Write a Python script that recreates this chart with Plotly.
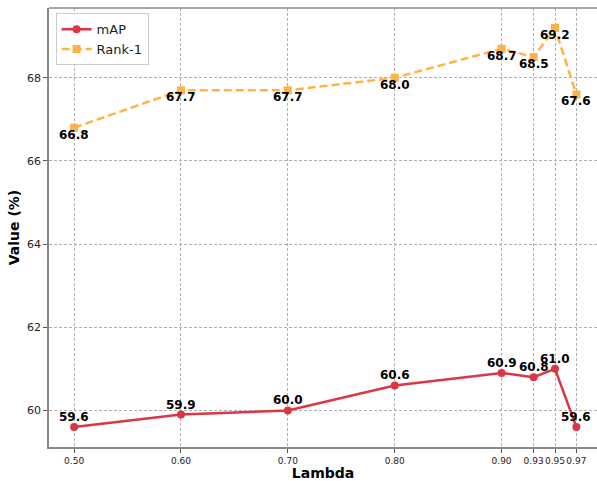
import plotly.graph_objects as go

lambdas = [0.50, 0.60, 0.70, 0.80, 0.90, 0.93, 0.95, 0.97]
tick_labels = ["0.50", "0.60", "0.70", "0.80", "0.90", "0.93", "0.95", "0.97"]
map_vals = [59.6, 59.9, 60.0, 60.6, 60.9, 60.8, 61.0, 59.6]
rank1_vals = [66.8, 67.7, 67.7, 68.0, 68.7, 68.5, 69.2, 67.6]

RED = "#dc3545"
ORANGE = "#ffb347"
FONT = "DejaVu Sans"

fig = go.Figure()
fig.add_trace(go.Scatter(
    x=lambdas, y=map_vals, name="mAP", mode="lines+markers",
    line=dict(color=RED, width=2.5),
    marker=dict(symbol="circle", size=8, color=RED),
))
fig.add_trace(go.Scatter(
    x=lambdas, y=rank1_vals, name="Rank-1", mode="lines+markers",
    line=dict(color=ORANGE, width=2.5, dash="8px,4px"),
    marker=dict(symbol="square", size=8, color=ORANGE),
))

annotations = []
for x, v in zip(lambdas, map_vals):
    annotations.append(dict(x=x, y=v, text=f"<b>{v:.1f}</b>", showarrow=False,
                            yshift=10, font=dict(family=FONT, size=12, color="black")))
for x, v in zip(lambdas, rank1_vals):
    annotations.append(dict(x=x, y=v, text=f"<b>{v:.1f}</b>", showarrow=False,
                            yshift=-7, font=dict(family=FONT, size=12, color="black")))

fig.update_layout(
    width=597, height=481,
    margin=dict(l=49, r=0, t=8, b=34),
    paper_bgcolor="white", plot_bgcolor="white",
    font=dict(family=FONT, color="#222"),
    annotations=annotations,
    showlegend=True,
    legend=dict(x=0.012, y=0.988, xanchor="left", yanchor="top",
                bgcolor="rgba(255,255,255,0.9)", bordercolor="#cccccc", borderwidth=1,
                font=dict(family=FONT, size=13, color="#222"),
                tracegroupgap=2, itemwidth=30),
    xaxis=dict(
        range=[0.4765, 0.9893], automargin=False,
        tickmode="array", tickvals=lambdas, ticktext=tick_labels, tickangle=0,
        tickfont=dict(family=FONT, size=9, color="#222"),
        ticks="outside", ticklen=4, tickcolor="#555",
        showline=True, linecolor="#888", linewidth=1.5,
        showgrid=True, gridcolor="#b0b0b0", griddash="3px,2px", gridwidth=0.8,
        zeroline=False,
        title=dict(text="<b>Lambda</b>", font=dict(family=FONT, size=14, color="black"), standoff=4),
    ),
    yaxis=dict(
        range=[59.12, 69.68], automargin=False,
        tickmode="array", tickvals=[60, 62, 64, 66, 68],
        tickfont=dict(family=FONT, size=11, color="#222"),
        ticks="outside", ticklen=4, tickcolor="#555",
        showline=True, linecolor="#888", linewidth=1.5,
        showgrid=True, gridcolor="#b0b0b0", griddash="3px,2px", gridwidth=0.8,
        zeroline=False,
        title=dict(text="<b>Value (%)</b>", font=dict(family=FONT, size=14, color="black"), standoff=4),
    ),
    shapes=[dict(type="line", xref="paper", yref="paper", x0=0, x1=1, y0=1, y1=1,
                 line=dict(color="#888", width=1.5))],
)

fig.write_html(
    "out.html", config={"displayModeBar": False},
    post_script=(
        "document.documentElement.style.overflow='hidden';"
        "document.body.style.margin='0';document.body.style.overflow='hidden';"
    ),
)
